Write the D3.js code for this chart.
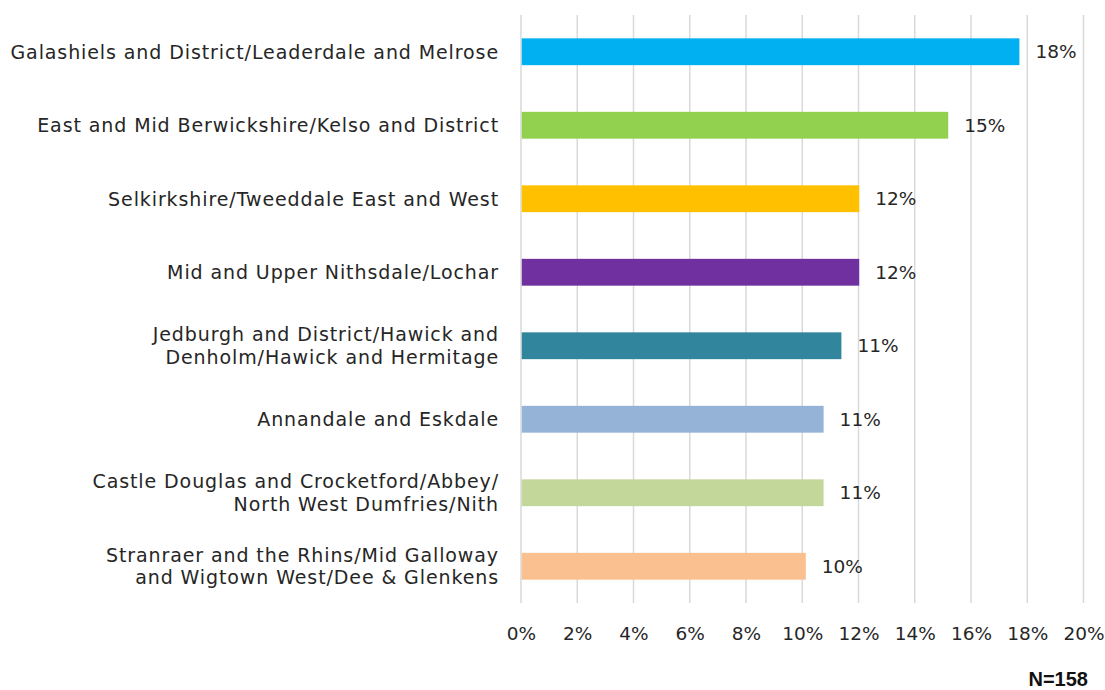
<!DOCTYPE html>
<html>
<head>
<meta charset="utf-8">
<script src="https://cdn.jsdelivr.net/npm/d3@7"></script>
<style>
  html, body { margin: 0; padding: 0; background: #fff; }
  svg { display: block; }
  .lbl { font-family: "DejaVu Sans", sans-serif; fill: #262626; }
  .note { font-family: "Liberation Sans", Arial, sans-serif; font-weight: bold; fill: #111; }
</style>
</head>
<body>
<svg id="chart" width="1105" height="690"></svg>
<script>
// Respondents by area (N = 158)
const categories = [
  ["Galashiels and District/Leaderdale and Melrose"],
  ["East and Mid Berwickshire/Kelso and District"],
  ["Selkirkshire/Tweeddale East and West"],
  ["Mid and Upper Nithsdale/Lochar"],
  ["Jedburgh and District/Hawick and", "Denholm/Hawick and Hermitage"],
  ["Annandale and Eskdale"],
  ["Castle Douglas and Crocketford/Abbey/", "North West Dumfries/Nith"],
  ["Stranraer and the Rhins/Mid Galloway", "and Wigtown West/Dee & Glenkens"]
];
const counts = [28, 24, 19, 19, 18, 17, 17, 16];
const total = 158;
const shares = counts.map(c => c / total);
const colors = ["#00B0F0", "#92D050", "#FFC000", "#7030A0", "#31859C", "#95B3D7", "#C4D79B", "#FAC090"];
const xTicks = [0, 0.02, 0.04, 0.06, 0.08, 0.10, 0.12, 0.14, 0.16, 0.18, 0.20];

const svg = d3.select("#chart");
const plotLeft = 521, plotRight = 1083.5, plotTop = 15, plotBottom = 603;

const x = d3.scaleLinear().domain([0, 0.20]).range([plotLeft, plotRight]);
const y = d3.scaleBand().domain(d3.range(categories.length)).range([plotTop, plotBottom]).paddingInner(0.635).paddingOuter(0.3175);
const pct = d3.format(".0%");

// vertical gridlines
svg.append("g")
  .selectAll("line")
  .data(xTicks)
  .join("line")
  .attr("x1", d => x(d)).attr("x2", d => x(d))
  .attr("y1", plotTop).attr("y2", plotBottom)
  .attr("stroke", "#d9d9d9").attr("stroke-width", 1.5);

// bars
svg.append("g")
  .selectAll("rect")
  .data(shares)
  .join("rect")
  .attr("x", x(0) + 0.75)
  .attr("y", (d, i) => y(i))
  .attr("width", d => x(d) - x(0) - 0.75)
  .attr("height", y.bandwidth())
  .attr("fill", (d, i) => colors[i]);

// value labels
svg.append("g")
  .selectAll("text")
  .data(shares)
  .join("text")
  .attr("class", "lbl")
  .attr("x", d => x(d) + 16)
  .attr("y", (d, i) => y(i) + y.bandwidth() / 2)
  .attr("dy", "0.36em")
  .style("font-size", "18.5px")
  .text(d => pct(d));

// category labels
const cat = svg.append("g")
  .selectAll("text")
  .data(categories)
  .join("text")
  .attr("class", "lbl")
  .attr("text-anchor", "end")
  .style("font-size", "19px")
  .style("letter-spacing", "0.9px")
  .attr("x", 499)
  .attr("y", (d, i) => y(i) + y.bandwidth() / 2);
cat.selectAll("tspan")
  .data(d => d.map((line, k) => ({ line, k, n: d.length })))
  .join("tspan")
  .attr("x", 499)
  .attr("dy", t => t.k === 0 ? (0.36 - (t.n - 1) * 0.6) + "em" : "1.2em")
  .text(t => t.line);

// x axis tick labels
const xAxis = d3.axisBottom(x).tickValues(xTicks).tickFormat(pct).tickSize(0).tickPadding(0);
const gx = svg.append("g").attr("transform", `translate(0, 640)`).call(xAxis);
gx.select(".domain").remove();
gx.selectAll("text")
  .attr("class", "lbl")
  .attr("fill", null)
  .attr("dy", 0)
  .style("font-size", "18.5px");
gx.attr("font-family", null).attr("font-size", null);

// sample size
svg.append("text")
  .attr("class", "note")
  .attr("x", 1088).attr("y", 686)
  .attr("text-anchor", "end")
  .style("font-size", "20px")
  .text(`N=${total}`);
</script>
</body>
</html>
